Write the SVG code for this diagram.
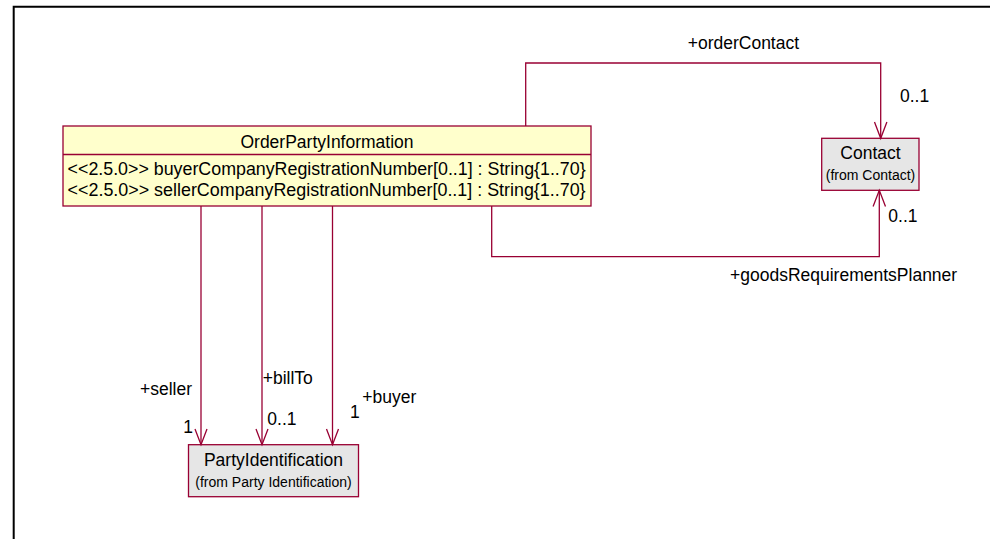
<svg xmlns="http://www.w3.org/2000/svg" width="990" height="539" viewBox="0 0 990 539">
<style>
text{font-family:"Liberation Sans",Arial,sans-serif;fill:#000;}
.t{font-size:17.5px;}
.s{font-size:14px;}
.box{stroke:#990033;stroke-width:1.3;}
.cls{fill:#ffffcc;}
.ext{fill:#e6e6e6;}
.ln{fill:none;stroke:#990033;stroke-width:1.3;}
</style>
<rect x="0" y="0" width="990" height="539" fill="#fff"/>
<path d="M13.7 539 V6.7 H990" fill="none" stroke="#000" stroke-width="2"/>
<g id="OrderPartyInformation">
<rect class="box cls" x="63" y="126" width="528" height="80"/>
<line class="box" x1="63" y1="154.5" x2="591" y2="154.5"/>
<text class="t" x="327" y="148" text-anchor="middle">OrderPartyInformation</text>
<text class="t" x="67.6" y="175" textLength="518" lengthAdjust="spacingAndGlyphs">&lt;&lt;2.5.0&gt;&gt; buyerCompanyRegistrationNumber[0..1] : String{1..70}</text>
<text class="t" x="67.6" y="195.7" textLength="518" lengthAdjust="spacingAndGlyphs">&lt;&lt;2.5.0&gt;&gt; sellerCompanyRegistrationNumber[0..1] : String{1..70}</text>
</g>
<g id="Contact">
<rect class="box ext" x="821.7" y="138.3" width="97.3" height="52"/>
<text class="t" x="870.5" y="159.3" text-anchor="middle">Contact</text>
<text class="s" x="870.5" y="180" text-anchor="middle">(from Contact)</text>
</g>
<g id="PartyIdentification">
<rect class="box ext" x="188.5" y="444.7" width="170" height="52"/>
<text class="t" x="273.5" y="466" text-anchor="middle">PartyIdentification</text>
<text class="s" x="273.5" y="487" text-anchor="middle">(from Party Identification)</text>
</g>
<g id="connectors">
<path class="ln" d="M525.7 126 V63 H880.7 V138.3"/>
<path class="ln" d="M874.5 122 L880.7 138.3 L886.9 122"/>
<path class="ln" d="M491.7 206 V256.7 H879.3 V190.3"/>
<path class="ln" d="M873.1 206.6 L879.3 190.3 L885.5 206.6"/>
<path class="ln" d="M201 206 V444.7"/>
<path class="ln" d="M195 429 L201 444.7 L207 429"/>
<path class="ln" d="M262 206 V444.7"/>
<path class="ln" d="M256 429 L262 444.7 L268 429"/>
<path class="ln" d="M332.5 206 V444.7"/>
<path class="ln" d="M326.5 429 L332.5 444.7 L338.5 429"/>
</g>
<g id="labels">
<text class="t" x="687.7" y="48.5">+orderContact</text>
<text class="t" x="900" y="101.7">0..1</text>
<text class="t" x="888.3" y="222.3">0..1</text>
<text class="t" x="730" y="281">+goodsRequirementsPlanner</text>
<text class="t" x="140" y="395">+seller</text>
<text class="t" x="262.7" y="384">+billTo</text>
<text class="t" x="362.3" y="403.3">+buyer</text>
<text class="t" x="183.3" y="432.7">1</text>
<text class="t" x="267.3" y="425">0..1</text>
<text class="t" x="350" y="418.3">1</text>
</g>
</svg>
